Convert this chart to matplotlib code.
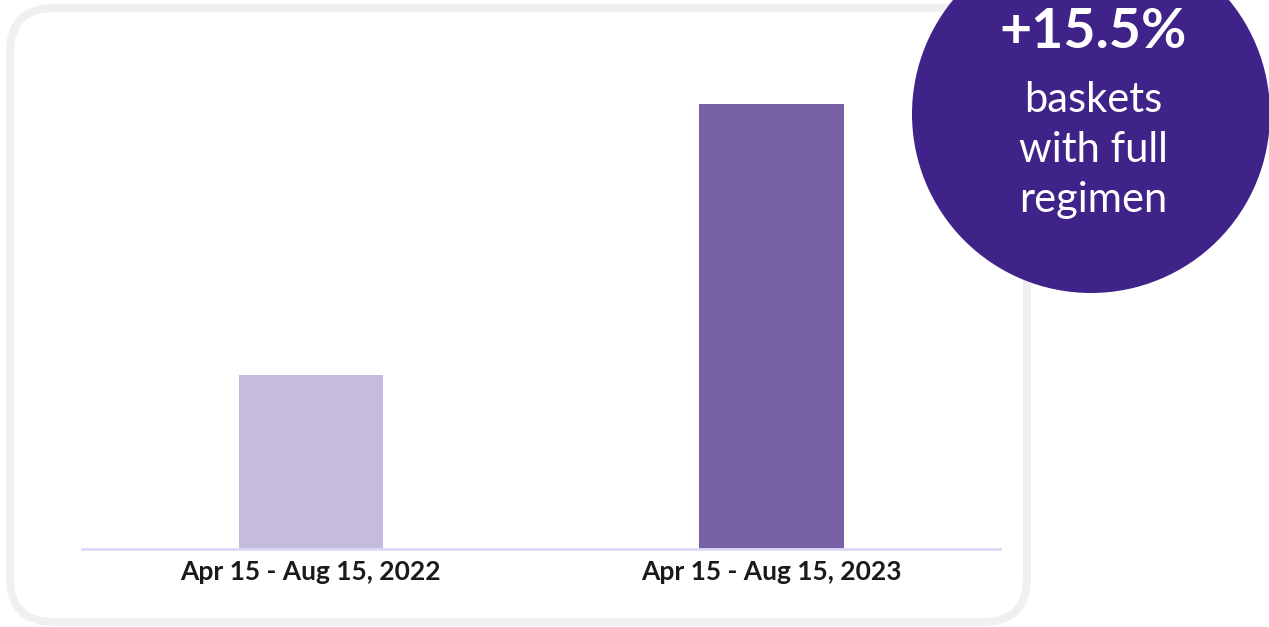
import matplotlib.pyplot as plt
from matplotlib.patches import FancyBboxPatch, Circle

# data
periods = ['Apr 15 - Aug 15, 2022', 'Apr 15 - Aug 15, 2023']
baskets_index = [39.1, 100]
bar_colors = ['#c5bbdd', '#7762a8']
badge_value = '+15.5%'
badge_text = 'baskets\nwith full\nregimen'

W, H = 1269, 627
fig = plt.figure(figsize=(W / 100, H / 100), dpi=100)
fig.patch.set_facecolor('white')

# background layer in pixel coords
bg = fig.add_axes([0, 0, 1, 1])
bg.set_xlim(0, W)
bg.set_ylim(H, 0)
bg.axis('off')
frame = FancyBboxPatch((10 + 44, 8 + 44), 1017 - 88, 614 - 88,
                       boxstyle='round,pad=44', facecolor='white',
                       edgecolor='#f0f0f1', linewidth=5.8)
bg.add_patch(frame)

# bar chart
ax = fig.add_axes([82 / W, 1 - 549 / H, (1000 - 82) / W, (549 - 104) / H])
ax.set_facecolor('none')
x = range(len(periods))
ax.bar(x, baskets_index, width=0.313, color=bar_colors)
ax.set_xlim(-0.497, 1.496)
ax.set_ylim(0, 100)
ax.set_yticks([])
ax.set_xticks(list(x))
ax.set_xticklabels(periods, fontfamily='Lato', fontweight='bold', fontsize=19, color='#1a1a1a')
ax.tick_params(axis='x', length=0, pad=8)
for s in ['top', 'right', 'left']:
    ax.spines[s].set_visible(False)
ax.spines['bottom'].set_color('#ddd8f5')
ax.spines['bottom'].set_linewidth(2)

# badge circle on top
top = fig.add_axes([0, 0, 1, 1])
top.set_xlim(0, W)
top.set_ylim(H, 0)
top.axis('off')
top.add_patch(Circle((1091, 114), 179, facecolor='#3f2389', edgecolor='none'))
top.text(1093, 32, badge_value, ha='center', va='center', color='white',
         fontfamily='Lato', fontweight='bold', fontsize=40)
top.text(1093, 150, badge_text, ha='center', va='center', color='white',
         fontfamily='Lato', fontsize=30, linespacing=1.38)

plt.savefig('out.png', dpi=100)
